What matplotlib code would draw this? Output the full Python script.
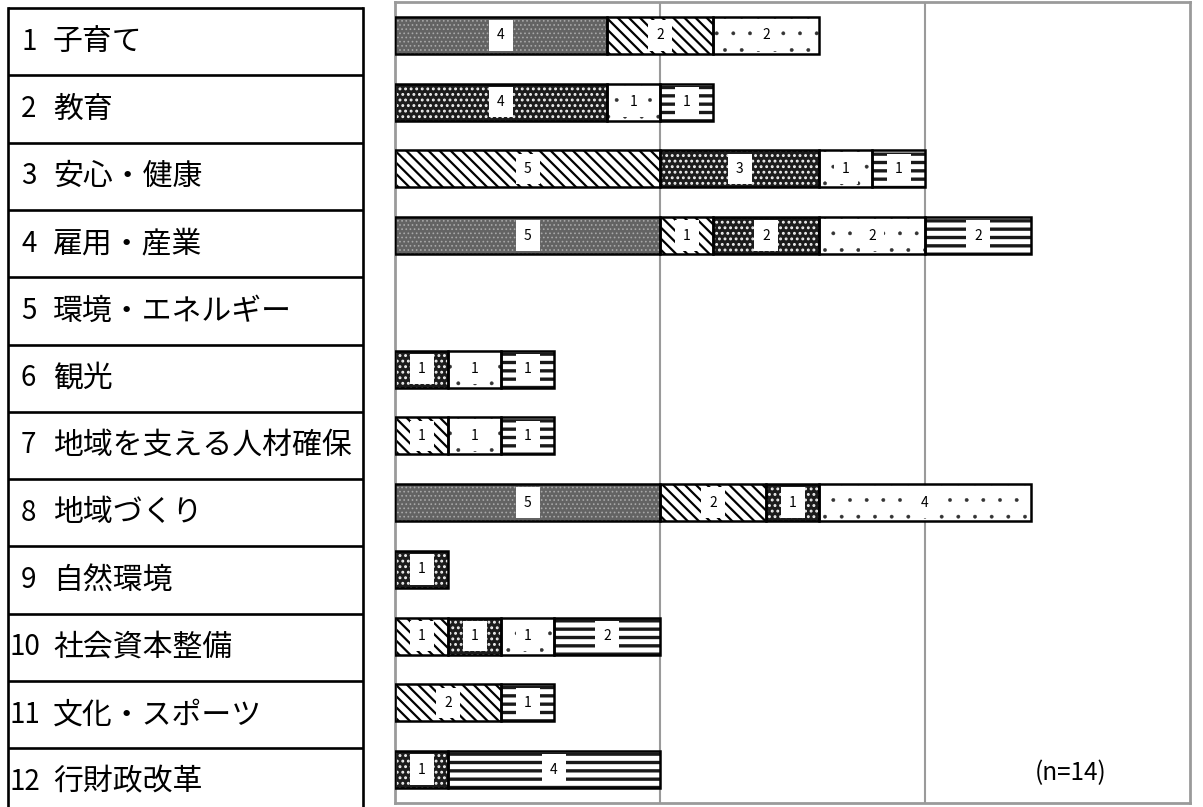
import matplotlib
matplotlib.use("Agg")
import matplotlib.pyplot as plt
from matplotlib.patches import Rectangle
import numpy as np

plt.rcParams['font.family'] = ['Noto Sans CJK JP', 'DejaVu Sans']
plt.rcParams['hatch.linewidth'] = 1.0

categories = ["1 子育て", "2 教育", "3 安心・健康", "4 雇用・産業", "5 環境・エネルギー",
              "6 観光", "7 地域を支える人材確保", "8 地域づくり", "9 自然環境",
              "10 社会資本整備", "11 文化・スポーツ", "12 行財政改革"]
series_a = [4, 0, 0, 5, 0, 0, 0, 5, 0, 0, 0, 0]   # fine stipple
series_b = [2, 0, 5, 1, 0, 0, 1, 2, 0, 1, 2, 0]   # diagonal lines
series_c = [0, 4, 3, 2, 0, 1, 0, 1, 1, 1, 0, 1]   # dark cross pattern
series_d = [2, 1, 1, 2, 0, 1, 1, 4, 0, 1, 0, 0]   # sparse dots
series_e = [0, 1, 1, 2, 0, 1, 1, 0, 0, 2, 1, 4]   # horizontal lines
note = "(n=14)"
xmax = 15
grid_x = [5, 10]

W, H = 1203, 807
fig = plt.figure(figsize=(W / 100, H / 100), dpi=100)

# ---- left label table ----
tl, tr, ttop, row_h = 8, 363, 8, 67.3
tw = tr - tl
tax = fig.add_axes([tl / W, 1 - (ttop + row_h * 12) / H, tw / W, row_h * 12 / H])
tax.set_xlim(0, 1)
tax.set_ylim(12, 0)
tax.axis('off')
for i in range(13):
    tax.plot([0, 1], [i, i], color='black', lw=1.9, clip_on=False, solid_capstyle='butt')
tax.plot([0, 0], [0, 12], color='black', lw=1.9, clip_on=False)
tax.plot([1, 1], [0, 12], color='black', lw=1.9, clip_on=False)
for i, lab in enumerate(categories):
    num, name = lab.split(" ", 1)
    x0 = (21 - tl) / tw if len(num) == 1 else (9 - tl) / tw
    tax.text(x0, i + 0.5, num, fontsize=20, va='center', ha='left',
             family=['Noto Sans CJK JP'])
    tax.text((53 - tl) / tw, i + 0.5, name, fontsize=21.5, va='center', ha='left')

# ---- bar chart ----
ax = fig.add_axes([395 / W, (H - 803) / H, 795 / W, 801 / H])
ax.set_xlim(0, xmax)
ax.set_ylim(len(categories) - 0.5, -0.5)
for s in ax.spines.values():
    s.set_color('#9a9a9a')
    s.set_linewidth(2)
ax.set_xticks([])
ax.set_yticks([])
for gx in grid_x:
    ax.axvline(gx, color='#9a9a9a', lw=1.5, zorder=0)

y = np.arange(len(categories))
styles = [
    dict(data=series_a, face='#636363', hatch='....', hc='#a8a8a8', hlw=0.7),
    dict(data=series_b, face='white', hatch='\\\\\\', hc='black', hlw=1.6),
    dict(data=series_c, face='#1c1c1c', hatch='...', hc='#f0f0f0', hlw=1.3),
    dict(data=series_d, face='white', hatch='.', hc='#333333', hlw=0.3),
    dict(data=series_e, face='white', hatch='--', hc='#1a1a1a', hlw=2.4),
]
bh = 0.555
left = np.zeros(len(categories))
box_w = 24 / (795 / xmax)
box_h = 0.46
for st in styles:
    vals = np.array(st['data'], dtype=float)
    m = vals > 0
    with plt.rc_context({'hatch.linewidth': st['hlw']}):
        bars = ax.barh(y[m], vals[m], left=left[m], height=bh, color=st['face'],
                       hatch=st['hatch'], edgecolor=st['hc'], linewidth=0, zorder=2)
        for b in bars:
            if hasattr(b, 'set_hatch_linewidth'):
                b.set_hatch_linewidth(st['hlw'])
    ax.barh(y[m], vals[m], left=left[m], height=bh, fill=False, edgecolor='black',
            linewidth=1.8, zorder=3)
    for yi, (l, v) in enumerate(zip(left, vals)):
        if v > 0:
            cx = l + v / 2
            ax.add_patch(Rectangle((cx - box_w / 2, yi - box_h / 2), box_w, box_h,
                                   facecolor='white', edgecolor='none', zorder=4))
            ax.text(cx, yi, f"{int(v)}", ha='center', va='center', fontsize=10,
                    family=['Noto Sans CJK JP'], zorder=5)
    left = left + vals

ax.text(12.75, 11.05, note, ha='center', va='center', fontsize=17.5,
        family=['Noto Sans CJK JP'])

fig.savefig("out.png", dpi=100)
